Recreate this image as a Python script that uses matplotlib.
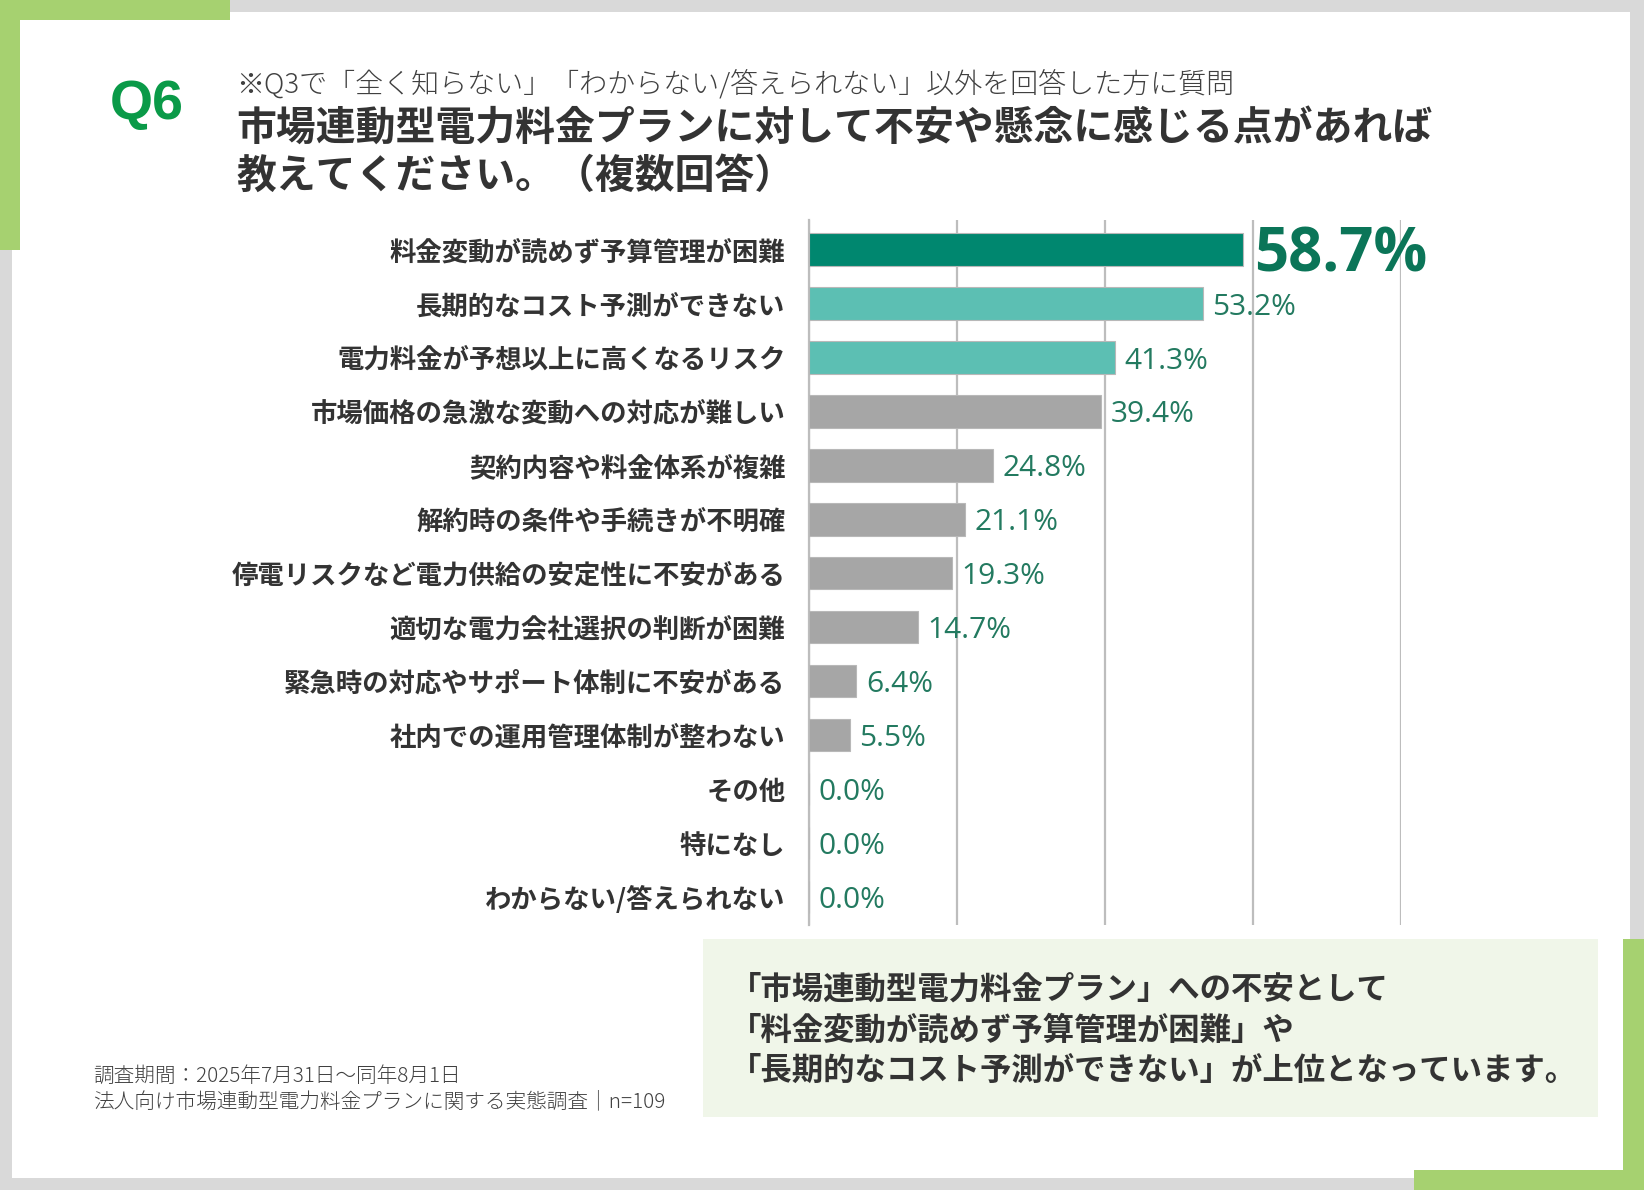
import matplotlib
matplotlib.use("Agg")
import matplotlib.pyplot as plt
from matplotlib.patches import Rectangle

plt.rcParams['font.family'] = ['Noto Sans CJK JP', 'DejaVu Sans']

# ---------------- data ----------------
categories = [
    "料金変動が読めず予算管理が困難",
    "長期的なコスト予測ができない",
    "電力料金が予想以上に高くなるリスク",
    "市場価格の急激な変動への対応が難しい",
    "契約内容や料金体系が複雑",
    "解約時の条件や手続きが不明確",
    "停電リスクなど電力供給の安定性に不安がある",
    "適切な電力会社選択の判断が困難",
    "緊急時の対応やサポート体制に不安がある",
    "社内での運用管理体制が整わない",
    "その他",
    "特になし",
    "わからない/答えられない",
]
values = [58.7, 53.2, 41.3, 39.4, 24.8, 21.1, 19.3, 14.7, 6.4, 5.5, 0.0, 0.0, 0.0]
x_ticks = [0, 20, 40, 60, 80]

q_label = "Q6"
subtitle = "※Q3で「全く知らない」「わからない/答えられない」以外を回答した方に質問"
title_lines = ["市場連動型電力料金プランに対して不安や懸念に感じる点があれば",
               "教えてください。（複数回答）"]
comment_lines = ["「市場連動型電力料金プラン」への不安として",
                 "「料金変動が読めず予算管理が困難」や",
                 "「長期的なコスト予測ができない」が上位となっています。"]
footnote_lines = ["調査期間：2025年7月31日〜同年8月1日",
                  "法人向け市場連動型電力料金プランに関する実態調査｜n=109"]

# ---------------- layout ----------------
W, H = 1644, 1190
fig = plt.figure(figsize=(W / 100, H / 100), dpi=100)
fig.patch.set_facecolor('#d9d9d9')


def fx(x):
    return x / W


def fy(y):
    return 1 - y / H


def rect(x0, y0, x1, y1, color, z=-5):
    fig.patches.append(Rectangle((fx(x0), fy(y1)), fx(x1) - fx(x0), fy(y0) - fy(y1),
                                 transform=fig.transFigure, facecolor=color,
                                 edgecolor='none', zorder=z))


GREEN = '#a6d170'
rect(12, 12, 1630, 1178, 'white')
rect(0, 0, 230, 20, GREEN)
rect(0, 0, 20, 250, GREEN)
rect(1623, 939, 1644, 1190, GREEN)
rect(1414, 1170, 1644, 1190, GREEN)
rect(703, 939, 1598, 1117, '#f0f6e9')

# header texts
fig.text(fx(110), fy(105), q_label, fontsize=40, fontweight='bold', color='#0a9a48',
         family=['Liberation Sans', 'DejaVu Sans'], ha='left', va='center')
fig.text(fx(236), fy(85), subtitle, fontsize=20.2, fontweight='light', color='#404040',
         ha='left', va='center')
for i, line in enumerate(title_lines):
    fig.text(fx(236), fy(128 + 48.5 * i), line, fontsize=28.7, fontweight='bold',
             color='#333333', ha='left', va='center')

# comment box text
for i, line in enumerate(comment_lines):
    fig.text(fx(730), fy(990 + 40.5 * i), line, fontsize=22.6, fontweight='bold',
             color='#333333', ha='left', va='center')

# footnotes
for i, line in enumerate(footnote_lines):
    fig.text(fx(93), fy(1076 + 26 * i), line, fontsize=14.9, fontweight='light',
             color='#404040', ha='left', va='center')

# ---------------- chart ----------------
ax = fig.add_axes([fx(809), fy(925), fx(1401) - fx(809), (925 - 220) / H])
ax.set_facecolor('none')
n = len(categories)
ypos = list(range(n))
colors = ['#00876f', '#5cbfb3', '#5cbfb3'] + ['#a6a6a6'] * (n - 3)
ax.barh(ypos, values, height=0.6, color=colors, edgecolor='#b8b8b8', linewidth=0.8,
        zorder=3)
ax.set_xlim(x_ticks[0], x_ticks[-1])
ax.set_ylim(n - 0.48, -0.55)
ax.set_xticks(x_ticks)
ax.set_xticklabels([])
ax.tick_params(axis='x', length=0)
ax.grid(axis='x', color='#bdbdbd', linewidth=1.6, zorder=0)
ax.set_axisbelow(True)
for s in ['top', 'right', 'bottom']:
    ax.spines[s].set_visible(False)
ax.spines['left'].set_color('#bdbdbd')
ax.spines['left'].set_linewidth(1.6)
ax.set_yticks(ypos)
ax.set_yticklabels(categories, fontsize=19, fontweight='bold', color='#333333')
ax.tick_params(axis='y', length=0, pad=17)

for i, v in enumerate(values):
    if i == 0:
        ax.annotate(f"{v:.1f}%", (v, i), xytext=(8, -4.5), textcoords='offset points',
                    ha='left', va='center', fontsize=43, fontweight='bold',
                    color='#0b7558', family=['Open Sans', 'DejaVu Sans'], zorder=4)
    else:
        ax.annotate(f"{v:.1f}%", (v, i), xytext=(7, -2.5), textcoords='offset points',
                    ha='left', va='center', fontsize=21.5,
                    color='#237a60', family=['Open Sans', 'DejaVu Sans'], zorder=4)

fig.savefig('out.png', dpi=100, facecolor=fig.get_facecolor())
